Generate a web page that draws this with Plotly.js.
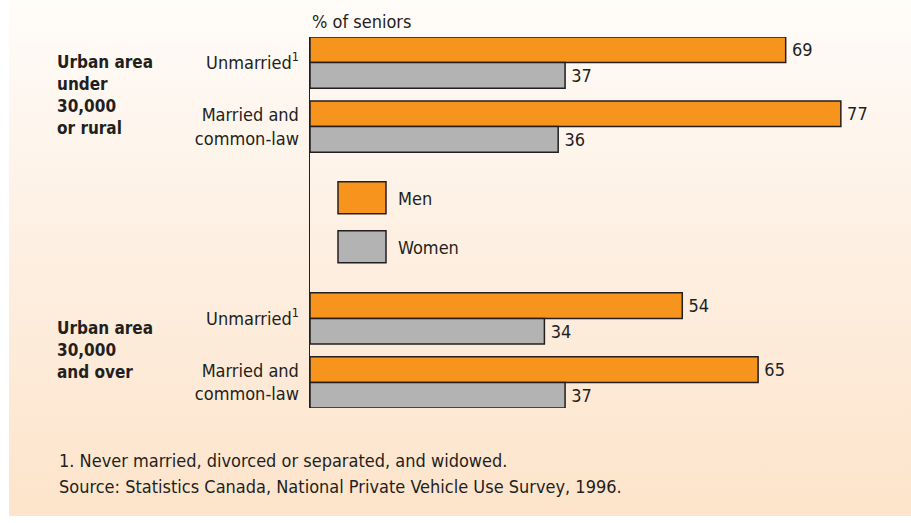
<!DOCTYPE html>
<html>
<head>
<meta charset="utf-8">
<script src="https://cdn.plot.ly/plotly-3.0.1.min.js"></script>
<style>
  html, body { margin: 0; padding: 0; background: #ffffff; }
  #bg { position: absolute; left: 9px; top: 0; width: 902px; height: 516px;
        background: linear-gradient(to bottom, #FFFCF9 0%, #FDF0E3 45%, #FDE4CB 100%); }
  #chart { position: absolute; left: 0; top: 0; width: 911px; height: 523px; }
</style>
</head>
<body>
<div id="bg"></div>
<div id="chart"></div>
<script>
// ---- data ----
const groups = ["Urban area<br>under<br>30,000<br>or rural", "Urban area<br>30,000<br>and over"];
const statuses = ["Unmarried<sup>1</sup>", "Married and<br>common-law"];
const men = [69, 77, 54, 65];     // g1-unmarried, g1-married, g2-unmarried, g2-married
const women = [37, 36, 34, 37];
const seriesNames = ["Men", "Women"];
const axisTitle = "% of seniors";
const footnotes = ["1. Never married, divorced or separated, and widowed.",
                   "Source: Statistics Canada, National Private Vehicle Use Survey, 1996."];

// ---- layout helpers ----
const FONT = '"DejaVu Sans Condensed", "Liberation Sans", Arial, sans-serif';
const TXT = '#231F20';
const ORANGE = '#F7941E';
const GREY = '#B3B3B3';

const ypos = [], ytext = [];
groups.forEach((g, gi) => statuses.forEach((s, si) => { ypos.push(gi * 4 + si); ytext.push(s); }));

const common = {
  type: 'bar', orientation: 'h', y: ypos,
  textposition: 'outside', cliponaxis: false, constraintext: 'none',
  textfont: { family: FONT, size: 18, color: TXT },
  hoverinfo: 'skip'
};
const traces = [
  Object.assign({}, common, { name: seriesNames[0], x: men, text: men.map(v => '\u2009' + v),
    marker: { color: ORANGE, line: { color: TXT, width: 1.5 } } }),
  Object.assign({}, common, { name: seriesNames[1], x: women, text: women.map(v => '\u2009' + v),
    marker: { color: GREY, line: { color: TXT, width: 1.5 } } })
];

const L = 310, W = 586, T = 37.4, H = 370.8;
const px = x => (x - L) / W;
const py = y => 1 - (y - T) / H;

const annotations = [];
groups.forEach((g, gi) => annotations.push({
  text: '<b>' + g + '</b>', xref: 'paper', yref: 'y', x: px(55), y: gi * 4 + 0.5,
  xanchor: 'left', yanchor: 'middle', align: 'left', showarrow: false,
  font: { family: FONT, size: 17, color: TXT }
}));
annotations.push({ text: axisTitle, xref: 'paper', yref: 'paper', x: 0, y: py(22),
  xanchor: 'left', yanchor: 'middle', showarrow: false, font: { family: FONT, size: 18, color: TXT } });
annotations.push({ text: seriesNames[0], xref: 'paper', yref: 'paper', x: px(396), y: py(199),
  xanchor: 'left', yanchor: 'middle', showarrow: false, font: { family: FONT, size: 18, color: TXT } });
annotations.push({ text: seriesNames[1], xref: 'paper', yref: 'paper', x: px(396), y: py(248),
  xanchor: 'left', yanchor: 'middle', showarrow: false, font: { family: FONT, size: 18, color: TXT } });
footnotes.forEach((f, i) => annotations.push({ text: f, xref: 'paper', yref: 'paper',
  x: px(57), y: py(461 + i * 26), xanchor: 'left', yanchor: 'middle', showarrow: false,
  font: { family: FONT, size: 18, color: TXT } }));

const shapes = [
  { type: 'rect', xref: 'paper', yref: 'paper', x0: px(338), x1: px(386), y0: py(182), y1: py(214),
    fillcolor: ORANGE, line: { color: TXT, width: 1.5 } },
  { type: 'rect', xref: 'paper', yref: 'paper', x0: px(338), x1: px(386), y0: py(231), y1: py(263),
    fillcolor: GREY, line: { color: TXT, width: 1.5 } }
];

const layout = {
  width: 911, height: 523,
  paper_bgcolor: 'rgba(0,0,0,0)', plot_bgcolor: 'rgba(0,0,0,0)',
  margin: { l: L, r: 911 - L - W, t: T, b: 523 - T - H, pad: 0 },
  barmode: 'group', bargap: 0.2, bargroupgap: 0,
  showlegend: false,
  font: { family: FONT, color: TXT },
  xaxis: { range: [0, 85], visible: false, showgrid: false, zeroline: false, fixedrange: true },
  yaxis: { range: [5.4, -0.4], tickmode: 'array', tickvals: ypos, ticktext: ytext,
    showline: true, linecolor: TXT, linewidth: 1.5, showgrid: false, zeroline: false,
    ticks: '', ticklabelstandoff: 6, tickfont: { family: FONT, size: 18, color: TXT }, fixedrange: true },
  annotations: annotations,
  shapes: shapes
};

Plotly.newPlot('chart', traces, layout, { staticPlot: true, displayModeBar: false });
</script>
</body>
</html>
